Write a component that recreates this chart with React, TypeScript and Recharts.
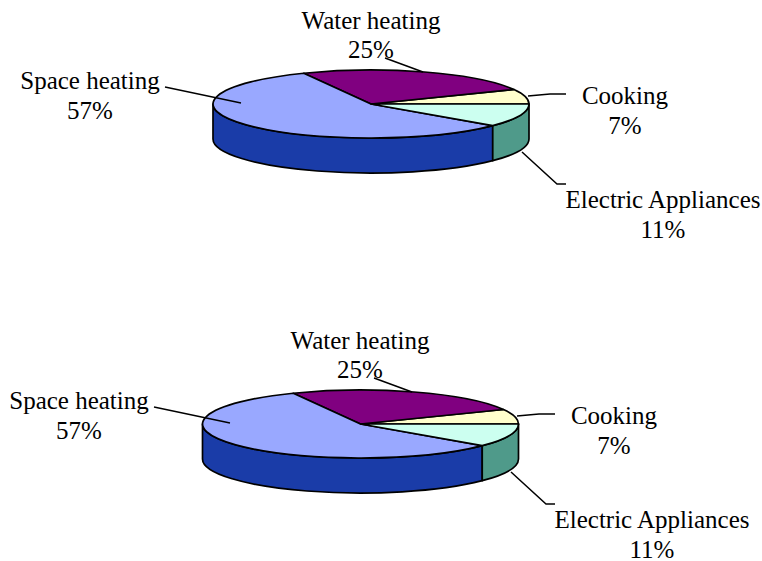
import React from 'react';
import { PieChart, Pie } from 'recharts';

// Energy use shares, same figures in both charts
const categories = ['Cooking', 'Water heating', 'Space heating', 'Electric Appliances'];
const shares = [7, 25, 57, 11];
const topColors = ['#FFFFCC', '#800080', '#99A8FF', '#CCFFF0'];
const sideColors = ['#4F9A8A', '#4F9A8A', '#1A3CA8', '#4F9A8A'];

const pieData = categories.map((name, i) => ({
  name,
  value: shares[i],
  fill: topColors[i],
  side: sideColors[i],
}));

// layout of the tilted pie
const RADIUS = 158;
const TILT = 34 / 158;
const DEPTH = 35;
const charts = [
  { cx: 371, cy: 104, dx: 0, dy: 0 },
  { cx: 360.5, cy: 424, dx: -11, dy: 320 },
];

// label anchor + leader line for each category (first chart coords)
const labelLayout = [
  { x: 625, y: 104, line: [[528, 96], [550, 94], [566, 94]] },
  { x: 371, y: 28.5, line: [[385, 58], [423, 72]] },
  { x: 90, y: 89, line: [[165, 87], [241, 103]] },
  { x: 663, y: 208, line: [[522, 152], [557, 184], [566, 184]] },
];

const rad = (a: number) => (a * Math.PI) / 180;

const pt = (cx: number, cy: number, a: number, drop = 0) =>
  `${cx + RADIUS * Math.cos(rad(a))} ${cy - RADIUS * TILT * Math.sin(rad(a)) + drop}`;

const TopSlice = (props: any) => {
  const { cx, cy, startAngle, endAngle, fill } = props;
  const large = endAngle - startAngle > 180 ? 1 : 0;
  const d = `M ${cx} ${cy} L ${pt(cx, cy, startAngle)} A ${RADIUS} ${RADIUS * TILT} 0 ${large} 0 ${pt(cx, cy, endAngle)} Z`;
  return <path d={d} fill={fill} stroke="#000" strokeWidth={1.7} strokeLinejoin="round" />;
};

const SideSlice = (props: any) => {
  const { cx, cy, startAngle, endAngle, payload } = props;
  // only the front half of the rim is visible
  const a = Math.max(startAngle, 180);
  const b = Math.min(endAngle, 360);
  if (b <= a) return null;
  const ry = RADIUS * TILT;
  const d =
    `M ${pt(cx, cy, a)} A ${RADIUS} ${ry} 0 0 0 ${pt(cx, cy, b)} ` +
    `L ${pt(cx, cy, b, DEPTH)} A ${RADIUS} ${ry} 0 0 1 ${pt(cx, cy, a, DEPTH)} Z`;
  return <path d={d} fill={payload.side} stroke="#000" strokeWidth={1.7} strokeLinejoin="round" />;
};

const makeLabel = (dx: number, dy: number) => (props: any) => {
  const { index, name, value } = props;
  const l = labelLayout[index];
  const points = l.line.map(([x, y]) => `${x + dx},${y + dy}`).join(' ');
  return (
    <g key={index}>
      <polyline points={points} fill="none" stroke="#000" strokeWidth={1.5} />
      <text x={l.x + dx} y={l.y + dy} textAnchor="middle" fontFamily="'Liberation Serif', serif" fontSize={25} fill="#000">
        {name}
      </text>
      <text x={l.x + dx} y={l.y + dy + 29.5} textAnchor="middle" fontFamily="'Liberation Serif', serif" fontSize={25} fill="#000">
        {`${value}%`}
      </text>
    </g>
  );
};

const App = () => {
  return (
    <div style={{ position: 'absolute', left: 0, top: 0, width: 762, height: 561, background: '#fff' }}>
      <PieChart width={762} height={561} margin={{ top: 0, right: 0, bottom: 0, left: 0 }}>
        {charts.map((c, i) => (
          <Pie
            key={`side-${i}`}
            data={pieData}
            dataKey="value"
            nameKey="name"
            cx={c.cx}
            cy={c.cy}
            outerRadius={RADIUS}
            startAngle={0}
            endAngle={360}
            shape={SideSlice}
            isAnimationActive={false}
          />
        ))}
        {charts.map((c, i) => (
          <Pie
            key={`top-${i}`}
            data={pieData}
            dataKey="value"
            nameKey="name"
            cx={c.cx}
            cy={c.cy}
            outerRadius={RADIUS}
            startAngle={0}
            endAngle={360}
            shape={TopSlice}
            label={makeLabel(c.dx, c.dy)}
            labelLine={false}
            isAnimationActive={false}
          />
        ))}
      </PieChart>
    </div>
  );
};

export default App;
